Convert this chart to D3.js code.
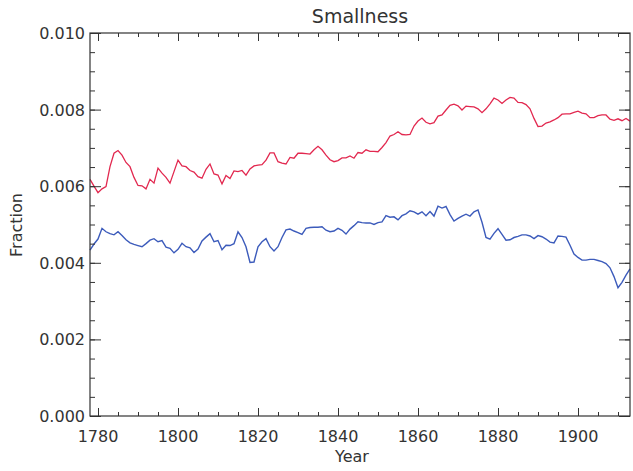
<!DOCTYPE html>
<html>
<head>
<meta charset="utf-8">
<script src="https://cdn.jsdelivr.net/npm/d3@7"></script>
<style>
  body { margin: 0; background: #fff; }
  text { font-family: "DejaVu Sans", sans-serif; fill: #333; }
</style>
</head>
<body>
<div id="maindiv"></div>
<script>
// yearly values, 1778..1913
var startYear = 1778;
var redSeries = [
  6.18, 6.00, 5.83, 5.93, 5.99, 6.51, 6.86, 6.93, 6.81, 6.62,
  6.51, 6.23, 6.02, 6.01, 5.93, 6.18, 6.08, 6.47, 6.34, 6.23,
  6.08, 6.38, 6.68, 6.53, 6.51, 6.41, 6.37, 6.25, 6.21, 6.44,
  6.58, 6.32, 6.29, 6.06, 6.28, 6.20, 6.40, 6.38, 6.41, 6.29,
  6.45, 6.53, 6.55, 6.56, 6.68, 6.87, 6.87, 6.64, 6.60, 6.58,
  6.75, 6.73, 6.86, 6.86, 6.85, 6.84, 6.95, 7.04, 6.95, 6.81,
  6.69, 6.64, 6.67, 6.74, 6.74, 6.79, 6.73, 6.88, 6.86, 6.95,
  6.91, 6.91, 6.90, 7.01, 7.14, 7.31, 7.35, 7.42, 7.35, 7.34,
  7.35, 7.57, 7.70, 7.78, 7.67, 7.63, 7.66, 7.83, 7.86, 7.99,
  8.11, 8.14, 8.10, 7.99, 8.09, 8.08, 8.07, 8.02, 7.92, 8.02,
  8.15, 8.30, 8.25, 8.16, 8.25, 8.32, 8.30, 8.19, 8.18, 8.13,
  8.02, 7.77, 7.56, 7.57, 7.65, 7.68, 7.73, 7.79, 7.88, 7.89,
  7.89, 7.93, 7.96, 7.91, 7.89, 7.79, 7.79, 7.84, 7.86, 7.86,
  7.75, 7.72, 7.76, 7.71, 7.77, 7.70
];
var blueSeries = [
  4.33, 4.49, 4.62, 4.90, 4.81, 4.76, 4.73, 4.81, 4.71, 4.60,
  4.52, 4.48, 4.45, 4.42, 4.50, 4.59, 4.63, 4.55, 4.58, 4.41,
  4.38, 4.26, 4.35, 4.51, 4.42, 4.39, 4.27, 4.36, 4.57, 4.67,
  4.76, 4.55, 4.58, 4.34, 4.46, 4.45, 4.50, 4.81, 4.66, 4.42,
  4.01, 4.02, 4.42, 4.55, 4.63, 4.42, 4.31, 4.42, 4.66, 4.86,
  4.88, 4.83, 4.79, 4.74, 4.90, 4.92, 4.93, 4.93, 4.94, 4.85,
  4.81, 4.83, 4.90, 4.85, 4.75, 4.88, 4.97, 5.07, 5.05, 5.04,
  5.04, 5.00, 5.05, 5.07, 5.23, 5.19, 5.20, 5.12, 5.23, 5.28,
  5.36, 5.33, 5.27, 5.33, 5.23, 5.34, 5.22, 5.48, 5.43, 5.47,
  5.26, 5.09, 5.16, 5.22, 5.27, 5.22, 5.33, 5.38, 5.06, 4.66,
  4.62, 4.77, 4.89, 4.74, 4.59, 4.60, 4.66, 4.69, 4.73, 4.73,
  4.70, 4.63, 4.71, 4.68, 4.62, 4.54, 4.52, 4.70, 4.69, 4.67,
  4.46, 4.23, 4.14, 4.07, 4.07, 4.09, 4.09, 4.06, 4.03, 3.98,
  3.87, 3.64, 3.35, 3.49, 3.68, 3.84
];
var xTicks = [1780, 1800, 1820, 1840, 1860, 1880, 1900];
var yTicks = [0, 0.002, 0.004, 0.006, 0.008, 0.010];

var width = 633;
var height = 471;
var margin = { top: 33, bottom: 55, left: 90, right: 3 };

var svg = d3.select("#maindiv")
    .append("svg")
    .attr("width", width)
    .attr("height", height);

var x = d3.scaleLinear()
    .domain([1778, 1913])
    .range([margin.left, width - margin.right]);

var y = d3.scaleLinear()
    .domain([0, 0.010])
    .range([height - margin.bottom, margin.top]);

function toPoints(arr) {
    return arr.map(function (v, i) { return { year: startYear + i, val: v / 1000 }; });
}

var line = d3.line()
    .x(function (d) { return x(d.year); })
    .y(function (d) { return y(d.val); });

var plot = svg.append("g");

plot.append("path")
    .datum(toPoints(redSeries))
    .attr("fill", "none")
    .attr("stroke", "#e2284f")
    .attr("stroke-width", 1.3)
    .attr("d", line);

plot.append("path")
    .datum(toPoints(blueSeries))
    .attr("fill", "none")
    .attr("stroke", "#3c5bbb")
    .attr("stroke-width", 1.4)
    .attr("d", line);

// axes - IDL style, ticks pointing inward on all four sides
var minorX = d3.range(1780, 1914, 5);
var minorY = d3.range(0, 0.01001, 0.0005);

function axisStyle(g) {
    g.select(".domain").remove();
    g.selectAll(".tick line").attr("stroke", "#333");
}

svg.append("g")
    .attr("transform", `translate(0,${height - margin.bottom})`)
    .call(d3.axisTop(x).tickValues(minorX).tickSize(4).tickFormat(""))
    .call(axisStyle);
svg.append("g")
    .attr("transform", `translate(0,${height - margin.bottom})`)
    .call(d3.axisTop(x).tickValues(xTicks).tickSize(8).tickFormat(""))
    .call(axisStyle);
svg.append("g")
    .attr("transform", `translate(0,${margin.top})`)
    .call(d3.axisBottom(x).tickValues(minorX).tickSize(4).tickFormat(""))
    .call(axisStyle);
svg.append("g")
    .attr("transform", `translate(0,${margin.top})`)
    .call(d3.axisBottom(x).tickValues(xTicks).tickSize(8).tickFormat(""))
    .call(axisStyle);

svg.append("g")
    .attr("transform", `translate(${margin.left},0)`)
    .call(d3.axisRight(y).tickValues(minorY).tickSize(5).tickFormat(""))
    .call(axisStyle);
svg.append("g")
    .attr("transform", `translate(${margin.left},0)`)
    .call(d3.axisRight(y).tickValues(yTicks).tickSize(11).tickFormat(""))
    .call(axisStyle);
svg.append("g")
    .attr("transform", `translate(${width - margin.right},0)`)
    .call(d3.axisLeft(y).tickValues(minorY).tickSize(5).tickFormat(""))
    .call(axisStyle);
svg.append("g")
    .attr("transform", `translate(${width - margin.right},0)`)
    .call(d3.axisLeft(y).tickValues(yTicks).tickSize(11).tickFormat(""))
    .call(axisStyle);

// frame
svg.append("rect")
    .attr("x", margin.left)
    .attr("y", margin.top)
    .attr("width", width - margin.left - margin.right)
    .attr("height", height - margin.top - margin.bottom)
    .attr("fill", "none")
    .attr("stroke", "#333")
    .attr("stroke-width", 1.2);

// tick labels
svg.append("g").selectAll("text")
    .data(xTicks)
    .enter()
    .append("text")
    .attr("x", function (d) { return x(d); })
    .attr("y", 442)
    .attr("text-anchor", "middle")
    .attr("font-size", "16px")
    .text(function (d) { return d; });

svg.append("g").selectAll("text")
    .data(yTicks)
    .enter()
    .append("text")
    .attr("x", margin.left - 5)
    .attr("y", function (d) { return y(d) + 6; })
    .attr("text-anchor", "end")
    .attr("font-size", "16px")
    .text(function (d) { return d3.format(".3f")(d); });

svg.append("text")
    .attr("x", (margin.left + width - margin.right) / 2)
    .attr("y", 23)
    .attr("text-anchor", "middle")
    .attr("font-size", "19px")
    .text("Smallness");

svg.append("text")
    .attr("x", 352)
    .attr("y", 462)
    .attr("text-anchor", "middle")
    .attr("font-size", "16px")
    .text("Year");

svg.append("text")
    .attr("transform", "translate(22,225) rotate(-90)")
    .attr("text-anchor", "middle")
    .attr("font-size", "16px")
    .text("Fraction");
</script>
</body>
</html>
